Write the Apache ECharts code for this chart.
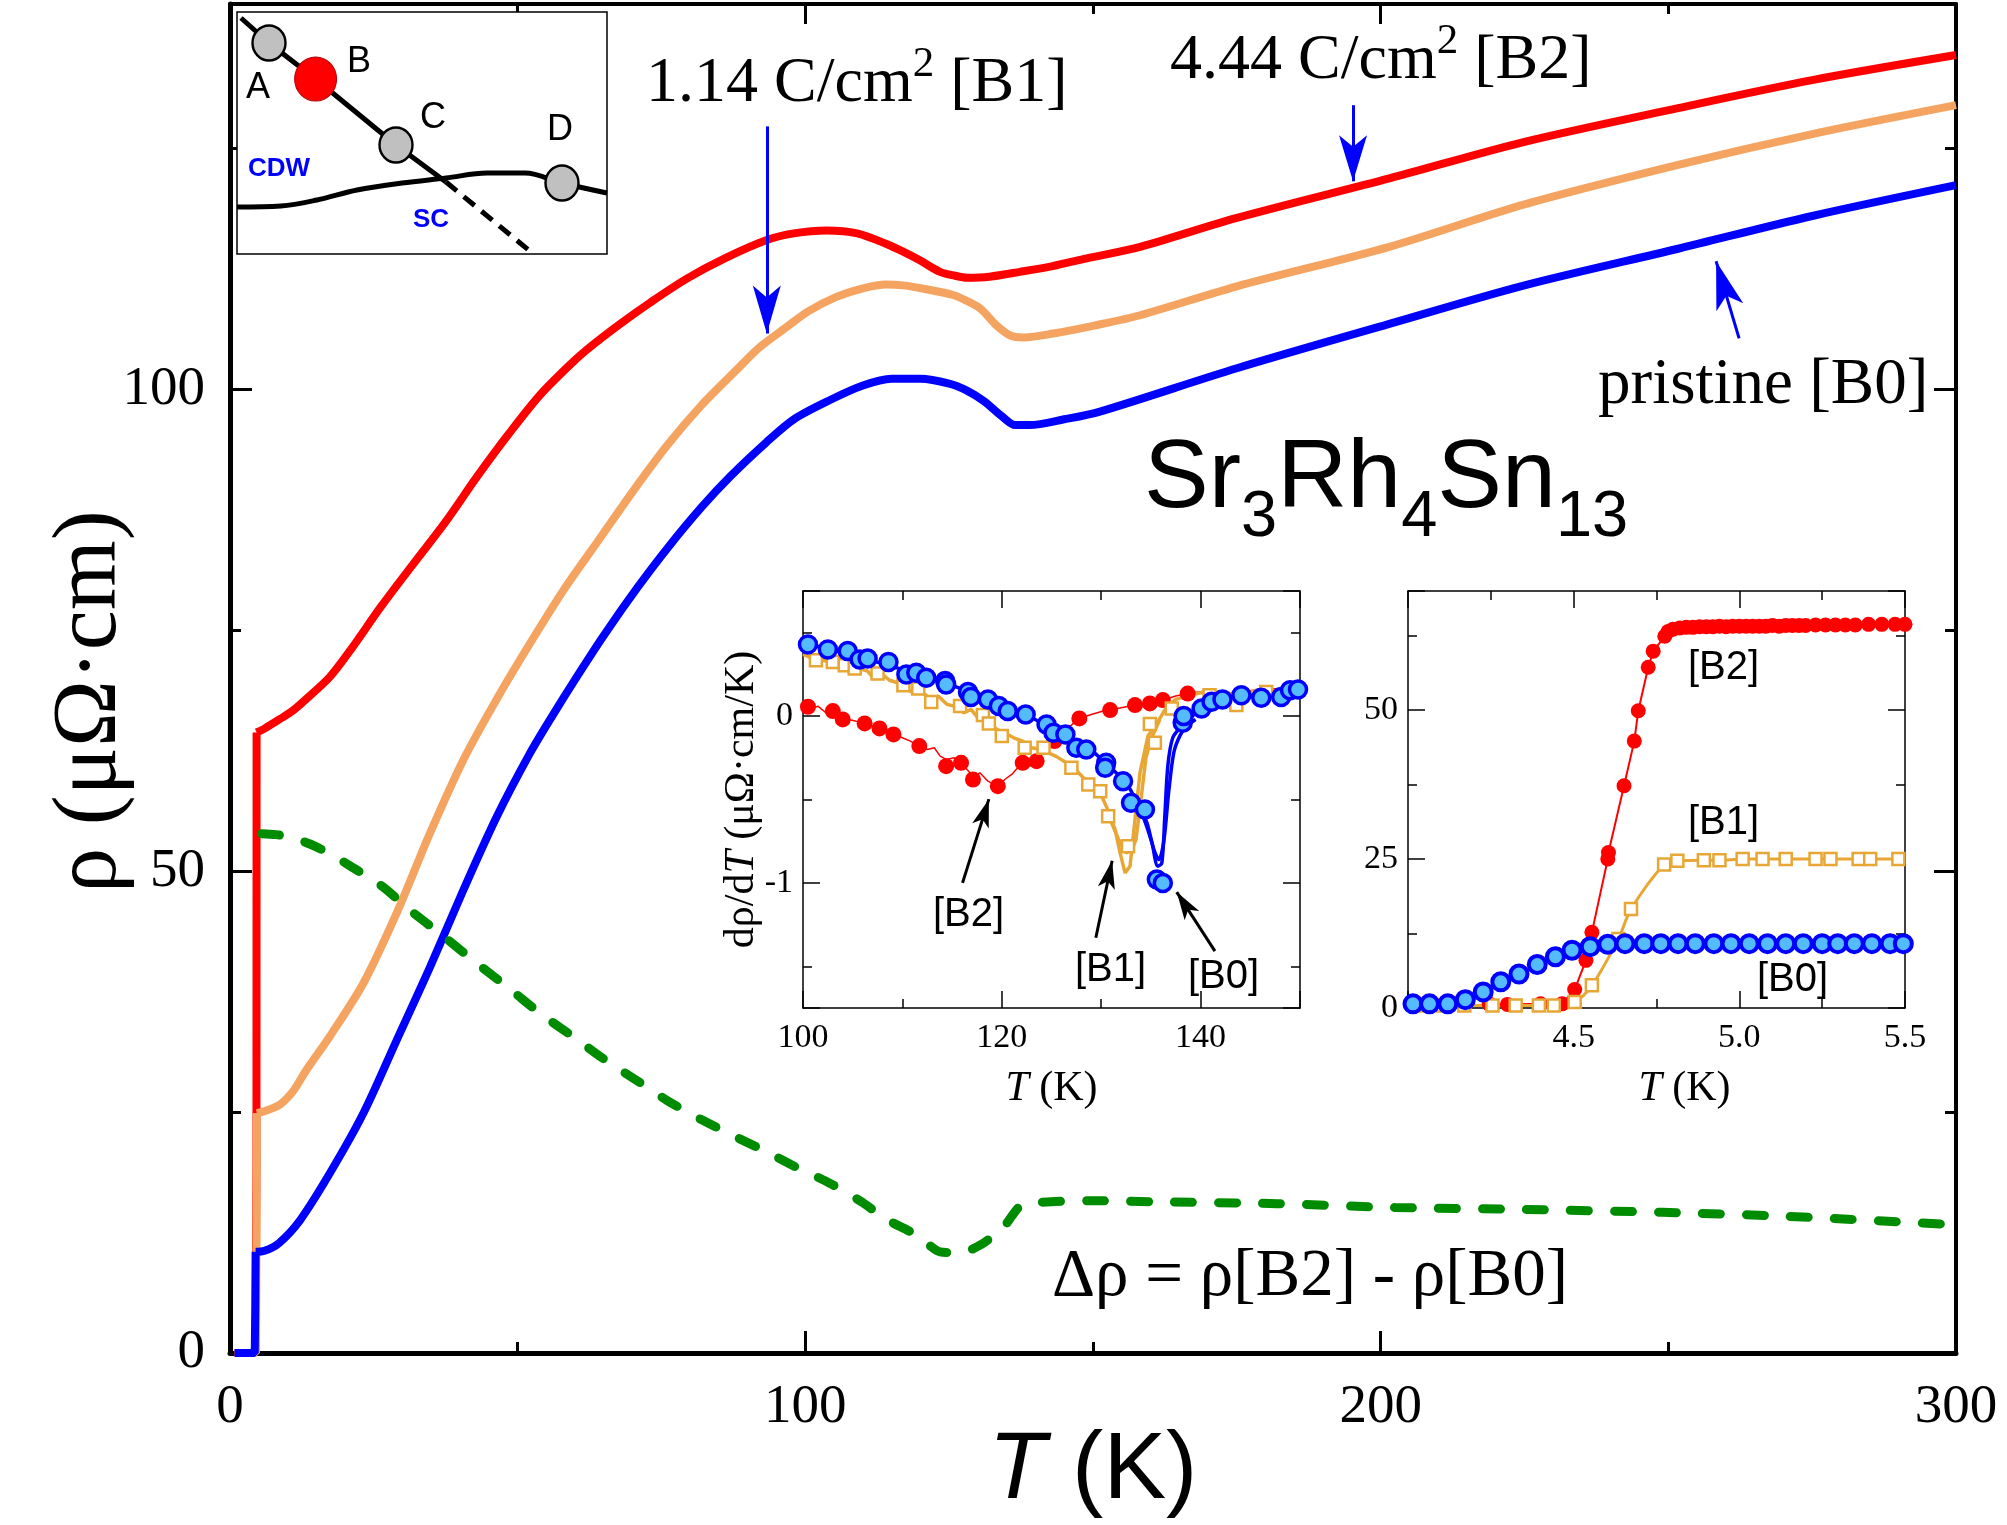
<!DOCTYPE html>
<html><head><meta charset="utf-8">
<script src="https://cdn.jsdelivr.net/npm/echarts@6/dist/echarts.min.js"></script>
<style>html,body{margin:0;padding:0;background:#fff}#c{width:2007px;height:1525px}</style>
</head><body><div id="c"></div>
<script>
// ===== Main panel: rho(T) =====
const rhoB2 = [[0.8,0],[4.45,0],[4.6,20],[4.62,64.4],[6,64.8],[8.7,65.8],[11,66.7],[13.3,67.9],[17.4,70.2],[21,73],[26.3,77.5],[32,82],[37.4,86.2],[43,91],[48.6,95.5],[54,99.5],[59.7,102.9],[63,104.6],[67.8,106.8],[73,109],[79.4,111.5],[86,113.6],[93.3,115.5],[98,116.2],[103.7,116.5],[109,116.2],[114.1,115.1],[117,114.3],[119.9,113.4],[123.4,112.2],[126,111.8],[128.1,111.6],[132,111.7],[137.3,112.2],[143,112.8],[148.9,113.6],[158.2,114.8],[175,117.8],[201.5,121.9],[225,125.7],[251.7,129.2],[275,132.1],[300,134.7]];
const rhoB1 = [[0.8,0],[4.5,0],[4.6,12],[4.65,24.9],[6,25.1],[8.7,25.8],[11,27.2],[13.3,29.4],[17.4,32.9],[23.2,38.4],[29,45.7],[34.8,54],[40.6,61.6],[46.4,67.9],[52,73.5],[58,79.2],[64,84.3],[70,89.4],[76,94.2],[82,98.4],[88,102],[92.1,104.4],[96.8,106.5],[100.5,108.1],[105.4,109.6],[110,110.5],[114,110.9],[117,110.8],[121,110.4],[125.7,109.8],[128,109.2],[130.4,108.4],[133.3,106.6],[135.6,105.6],[138,105.4],[143.1,105.8],[150,106.6],[158.2,107.7],[175,110.7],[201.5,114.8],[225,119.2],[251.7,123.3],[275,126.5],[300,129.5]];
const rhoB0 = [[0.8,0],[4.3,0],[4.4,5],[4.45,10.5],[6,10.6],[8.5,11.4],[12.2,13.8],[17.4,18.7],[23.2,24.9],[29,32.5],[34.8,40.1],[40.6,48.1],[46.4,55.7],[52.1,62.2],[56,66.1],[60.3,70.2],[65,74.5],[70.9,79.5],[76,83.5],[82,87.8],[87,91],[93.2,94.5],[98,96.9],[104.3,98.9],[110,100.4],[115,101.1],[120,101.1],[125,100.6],[128,99.9],[131,98.8],[134,97.3],[136.5,96.3],[139,96.3],[145,96.9],[151.2,97.7],[175,102.2],[201.5,106.8],[225,110.8],[251.7,114.6],[275,118],[300,121.2]];
const dRho = [[5.5,53.9],[8,53.8],[10.7,53.5],[14,52.8],[17.4,51.8],[21,50.5],[26.3,48.5],[31,46.1],[37.4,43.1],[43,40.4],[48.6,37.8],[54,35.2],[59.7,32.8],[65,30.5],[70.9,28.2],[76,26.2],[82,24.2],[88,22.4],[93.2,20.9],[98,19.4],[104.3,17.6],[110,15.6],[114,13.9],[118.8,12.4],[121.5,11.2],[123.4,10.5],[126.9,10.4],[130.4,11.2],[132.5,12.1],[134.4,13.0],[136,14.3],[137.3,15.2],[140,15.6],[150,15.8],[160,15.7],[182,15.5],[202.5,15.1],[225,14.9],[249,14.6],[270,14.2],[300,13.3]];
const JUMP_END = 3; // index where the superconducting jump ends in each rho array
const mainXTicks = {min:0, max:300, major:100, minor:50};
const mainYTicks = {min:0, max:140, major:50, minor:25};

// ===== Inset 1: drho/dT =====
const dB2line = [[100,0.07],[100.8,0.04],[101.5,0.06],[102.3,0.02],[103,0.03],[103.8,0.0],[104.5,-0.02],[105.3,-0.03],[106.2,-0.044],[107,-0.06],[107.7,-0.074],[108.4,-0.09],[109.1,-0.11],[110,-0.13],[110.8,-0.15],[111.7,-0.18],[112.5,-0.2],[113.2,-0.19],[113.8,-0.24],[114.4,-0.26],[115.2,-0.25],[115.9,-0.28],[116.5,-0.32],[117.1,-0.36],[117.8,-0.34],[118.6,-0.39],[119.6,-0.42],[120.3,-0.38],[121,-0.35],[121.6,-0.31],[122.1,-0.28],[122.8,-0.3],[123.5,-0.26],[124.4,-0.2],[125.3,-0.15],[126.5,-0.08],[127.8,-0.014],[129,0.01],[130.2,0.03],[130.9,0.036],[132,0.05],[133.4,0.066],[134.9,0.076],[136.2,0.096],[137.5,0.12],[138.7,0.135],[140.5,0.15],[143,0.14],[146,0.16],[150,0.17]];
const dB2pts = [[100.5,0.056],[103.0,0.03],[104.0,-0.02],[106.2,-0.044],[107.7,-0.074],[109.1,-0.11],[111.7,-0.18],[114.4,-0.30],[115.9,-0.28],[117.1,-0.38],[119.6,-0.42],[122.1,-0.28],[123.5,-0.27],[125.3,-0.15],[127.8,-0.014],[130.9,0.036],[133.4,0.066],[134.9,0.076],[136.2,0.096],[138.7,0.135]];
const dB1line = [[100,0.37],[101,0.345],[102,0.335],[103,0.32],[104,0.30],[104.6,0.27],[105.4,0.29],[106.5,0.27],[107.2,0.22],[107.8,0.26],[108.7,0.215],[109.5,0.2],[110.2,0.18],[111,0.14],[111.6,0.17],[112.1,0.135],[113,0.1],[113.6,0.12],[114.5,0.07],[115.4,0.056],[116.2,0.02],[116.9,0.04],[117.6,-0.01],[118.8,-0.044],[119.5,-0.08],[120.3,-0.1],[121.2,-0.13],[122.1,-0.15],[123,-0.19],[124,-0.2],[125.5,-0.243],[126.5,-0.28],[127.4,-0.32],[128.2,-0.37],[129,-0.4],[129.7,-0.43],[130.2,-0.5],[130.8,-0.58],[131.4,-0.68],[131.9,-0.82],[132.4,-0.94],[132.9,-0.9],[133.4,-0.62],[133.9,-0.34],[134.7,-0.12],[135.6,-0.044],[136.6,0.056],[137.5,0.1],[138.9,0.125],[140,0.14],[142.3,0.145],[144,0.12],[145.6,0.155],[148,0.15],[150,0.145]];
const dB1line2 = [[130.9,-0.62],[131.9,-0.76],[132.5,-0.82],[133.1,-0.8],[133.5,-0.74],[134.0,-0.5],[134.5,-0.25],[135.0,-0.14],[135.9,-0.02]];
const dB1pts = [[101.3,0.335],[103.0,0.325],[104.2,0.305],[105.2,0.285],[107.5,0.255],[110.1,0.185],[111.6,0.165],[112.9,0.085],[115.8,0.06],[118.1,0.006],[118.7,-0.044],[120.0,-0.12],[122.3,-0.19],[124.2,-0.19],[127.0,-0.31],[128.7,-0.41],[129.9,-0.45],[130.7,-0.6],[132.7,-0.78],[134.9,-0.048],[135.4,-0.16],[137.1,0.046],[140.9,0.125],[143.6,0.066],[146.6,0.145]];
const dB0line = [[100.0,0.44],[101,0.425],[102,0.41],[103,0.395],[104,0.38],[105.4,0.355],[107,0.33],[108.7,0.305],[110.4,0.27],[112.1,0.245],[114,0.21],[115.4,0.175],[117,0.14],[118.8,0.09],[120.6,0.04],[122.1,0.016],[124,-0.04],[125.5,-0.084],[127,-0.14],[128.9,-0.2],[130.4,-0.28],[131.5,-0.34],[132.5,-0.4],[133.2,-0.47],[134.2,-0.6],[135.1,-0.76],[135.7,-0.9],[136.1,-0.88],[136.4,-0.6],[136.7,-0.3],[137.2,-0.13],[138.1,-0.06],[138.9,-0.01],[140.6,0.05],[142.3,0.095],[144,0.12],[145.6,0.125],[148,0.13],[150,0.165]];
const dB0line2 = [[133.6,-0.5],[134.6,-0.64],[135.3,-0.8],[135.8,-0.86],[136.3,-0.75],[136.8,-0.45],[137.3,-0.22],[137.9,-0.12],[138.6,-0.06],[139.5,-0.02]];
const dB0pts = [[100.5,0.43],[102.5,0.40],[104.5,0.39],[105.7,0.34],[106.5,0.345],[108.6,0.325],[110.4,0.25],[111.4,0.26],[112.4,0.23],[114.3,0.21],[114.4,0.19],[116.6,0.145],[116.9,0.115],[118.6,0.10],[119.7,0.06],[120.6,0.03],[122.4,0.01],[124.5,-0.05],[125.2,-0.10],[126.4,-0.11],[127.5,-0.19],[128.5,-0.20],[130.5,-0.28],[130.4,-0.31],[132.2,-0.39],[133.0,-0.52],[134.4,-0.56],[135.6,-0.98],[136.2,-1.0],[138.2,-0.04],[138.3,0.0],[140.1,0.046],[141.1,0.086],[142.2,0.10],[144.1,0.125],[146.1,0.11],[148.1,0.115],[149.0,0.155],[149.8,0.16]];

// ===== Inset 2: superconducting transition =====
const sB2 = [[4.245,0.7],[4.3,0.6],[4.4,0.7],[4.465,0.7],[4.503,3.1],[4.537,8.0],[4.555,12.7],[4.603,25.0],[4.605,26.1],[4.652,37.3],[4.683,44.8],[4.695,49.9],[4.725,57.2],[4.74,59.9],[4.775,62.4],[4.785,63.2],[4.80,63.6],[4.82,63.8],[4.84,63.9],[4.86,63.9],[4.88,64.0],[4.90,64.0],[4.92,64.0],[4.94,64.1],[4.96,64.0],[4.98,64.1],[5.00,64.1],[5.02,64.1],[5.04,64.1],[5.06,64.1],[5.08,64.1],[5.10,64.2],[5.12,64.1],[5.14,64.2],[5.16,64.2],[5.18,64.2],[5.20,64.2],[5.23,64.3],[5.26,64.3],[5.29,64.3],[5.32,64.3],[5.35,64.3],[5.39,64.4],[5.43,64.4],[5.47,64.4],[5.50,64.4]];
const sB1 = [[4.03,0.4],[4.105,0.4],[4.17,0.4],[4.255,0.4],[4.325,0.4],[4.395,0.4],[4.44,0.4],[4.503,1.0],[4.555,3.8],[4.635,11.6],[4.673,16.6],[4.773,24.1],[4.813,24.7],[4.893,24.8],[4.94,24.8],[5.01,25.0],[5.07,25.0],[5.14,25.0],[5.23,25.0],[5.275,25.0],[5.36,25.0],[5.395,25.0],[5.48,25.0]];
const sB0 = [[4.015,0.7],[4.065,0.7],[4.12,0.7],[4.173,1.4],[4.227,2.7],[4.28,4.4],[4.335,5.7],[4.39,7.3],[4.445,8.6],[4.495,9.7],[4.55,10.3],[4.603,10.7],[4.655,10.8],[4.713,10.8],[4.763,10.8],[4.815,10.8],[4.867,10.8],[4.923,10.8],[4.975,10.8],[5.03,10.8],[5.085,10.8],[5.14,10.8],[5.193,10.8],[5.25,10.8],[5.297,10.8],[5.347,10.8],[5.4,10.8],[5.455,10.8],[5.495,10.8]];

// ===== Schematic phase diagram (arbitrary units) =====
const phDiag = [[4,236],[32,211],[78.6,175],[159,109],[209,72]];
const phDash = [[209,72],[294,2]];
const phBound = [[0,47],[44,48],[80,54],[120,64],[165,71],[209,76],[250,81],[288,81],[325,71],[370,61]];
const phGray = [[32,211],[159,109],[325,71]];
const phRed = [[78.6,175]];

// ===== styles =====
const SERIF = '"Liberation Serif","Times New Roman",serif';
const SANS = '"Liberation Sans",Arial,sans-serif';
const RED = '#ff0000', ORANGE = '#f4a460', BLUE = '#0000ff', GREEN = '#008c00', GOLD = '#e8a735', LBLUE = '#55bbff';

const grids = [], xAxes = [], yAxes = [];
function axis(o) {
  const a = {
    type: 'value', position: o.pos, min: o.min, max: o.max, show: o.show !== false,
    nameMoveOverlap: false,
    splitLine: {show: false},
    axisLine: {show: !!o.lineW, onZero: false, lineStyle: {color: '#000', width: o.lineW || 1}},
    axisTick: {show: !!o.tickLen, inside: true, length: o.tickLen || 0, lineStyle: {color: '#000', width: o.tickW || 1.5}},
    axisLabel: {show: !!o.fmt, color: '#000', fontFamily: SERIF, fontSize: o.fs || 34, margin: o.margin || 10, formatter: o.fmt, showMinLabel: true, showMaxLabel: true},
    minorTick: {show: false}
  };
  if (o.interval != null) a.interval = o.interval;
  if (o.fixInt != null) { a.minInterval = o.fixInt; a.maxInterval = o.fixInt; }
  return Object.assign(a, o.extra || {});
}
function layer(rect, xa, ya) {
  const gi = grids.length;
  grids.push(Object.assign({show: false, containLabel: false, outerBoundsMode: 'none'}, rect));
  xa.gridIndex = gi; ya.gridIndex = gi;
  xAxes.push(xa); yAxes.push(ya);
  return gi;
}

// --- main layers ---
const MR = {left: 230, top: 4, width: 1726, height: 1349};
const M0 = layer(MR,
  axis({pos: 'bottom', min: mainXTicks.min, max: mainXTicks.max, interval: mainXTicks.major, lineW: 5, tickLen: 22, tickW: 3,
        fmt: v => String(v), fs: 55, margin: 27,
        extra: {name: '{i|T} (K)', nameLocation: 'middle', nameGap: 72,
          nameTextStyle: {fontFamily: SANS, fontSize: 94, color: '#000', rich: {i: {fontFamily: SANS, fontSize: 94, fontStyle: 'italic', color: '#000'}}}}}),
  axis({pos: 'left', min: mainYTicks.min, max: mainYTicks.max, interval: mainYTicks.major, lineW: 5, tickLen: 22, tickW: 3,
        fmt: v => (v % 50 === 0 ? String(v) : ''), fs: 55, margin: 25,
        extra: {name: 'ρ (μΩ·cm)', nameLocation: 'middle', nameGap: 94,
          nameTextStyle: {fontFamily: SERIF, fontSize: 90, color: '#000', padding: [0, 46, 0, 0]}}}));
layer(MR,
  axis({pos: 'top', min: mainXTicks.min, max: mainXTicks.max, interval: mainXTicks.major, lineW: 4, tickLen: 20, tickW: 3}),
  axis({pos: 'right', min: mainYTicks.min, max: mainYTicks.max, interval: mainYTicks.major, lineW: 4, tickLen: 22, tickW: 3}));
layer(MR,
  axis({pos: 'bottom', min: mainXTicks.min, max: mainXTicks.max, interval: mainXTicks.minor, tickLen: 11, tickW: 3}),
  axis({pos: 'left', min: mainYTicks.min, max: mainYTicks.max, interval: mainYTicks.minor, tickLen: 11, tickW: 3}));
layer(MR,
  axis({pos: 'top', min: mainXTicks.min, max: mainXTicks.max, interval: mainXTicks.minor, tickLen: 10, tickW: 3}),
  axis({pos: 'right', min: mainYTicks.min, max: mainYTicks.max, interval: mainYTicks.minor, tickLen: 11, tickW: 3}));

// --- inset 1 layers ---
const R1 = {left: 803, top: 591, width: 497, height: 417};
const I0 = layer(R1,
  axis({pos: 'bottom', min: 100, max: 150, interval: 20, lineW: 1.5, tickLen: 17, fmt: v => (v === 150 ? '' : String(v)), fs: 34, margin: 13,
        extra: {name: '{i|T} (K)', nameLocation: 'middle', nameGap: 60,
          nameTextStyle: {fontFamily: SERIF, fontSize: 42, color: '#000', rich: {i: {fontFamily: SERIF, fontSize: 42, fontStyle: 'italic', color: '#000'}}}}}),
  axis({pos: 'left', min: -1.75, max: 0.75, fixInt: 1, lineW: 1.5, tickLen: 17,
        fmt: v => (Math.abs(v - Math.round(v)) < 1e-9 ? String(Math.round(v)) : ''), fs: 34, margin: 10,
        extra: {name: 'dρ/d{i|T} (μΩ·cm/K)', nameLocation: 'middle', nameGap: 40,
          nameTextStyle: {fontFamily: SERIF, fontSize: 42, color: '#000', rich: {i: {fontFamily: SERIF, fontSize: 42, fontStyle: 'italic', color: '#000'}}}}}));
layer(R1, axis({pos: 'top', min: 100, max: 150, interval: 20, lineW: 1.5, tickLen: 17}),
          axis({pos: 'right', min: -1.75, max: 0.75, fixInt: 1, lineW: 1.5, tickLen: 17}));
layer(R1, axis({pos: 'bottom', min: 100, max: 150, interval: 10, tickLen: 9}),
          axis({pos: 'left', min: -1.75, max: 0.75, fixInt: 0.5, tickLen: 9}));
layer(R1, axis({pos: 'top', min: 100, max: 150, interval: 10, tickLen: 9}),
          axis({pos: 'right', min: -1.75, max: 0.75, fixInt: 0.5, tickLen: 9}));

// --- inset 2 layers ---
const R2 = {left: 1408, top: 591, width: 497, height: 417};
const J0 = layer(R2,
  axis({pos: 'bottom', min: 4, max: 5.5, interval: 0.5, lineW: 1.5, tickLen: 17, fmt: v => (v === 4 ? '' : v.toFixed(1)), fs: 34, margin: 13,
        extra: {name: '{i|T} (K)', nameLocation: 'middle', nameGap: 60,
          nameTextStyle: {fontFamily: SERIF, fontSize: 42, color: '#000', padding: [0, 0, 0, 56], rich: {i: {fontFamily: SERIF, fontSize: 42, fontStyle: 'italic', color: '#000'}}}}}),
  axis({pos: 'left', min: 0, max: 70, interval: 25, lineW: 1.5, tickLen: 17, fmt: v => (v === 70 ? '' : String(v)), fs: 34, margin: 10}));
layer(R2, axis({pos: 'top', min: 4, max: 5.5, interval: 0.5, lineW: 1.5, tickLen: 17}),
          axis({pos: 'right', min: 0, max: 70, interval: 25, lineW: 1.5, tickLen: 17}));
layer(R2, axis({pos: 'bottom', min: 4, max: 5.5, interval: 0.25, tickLen: 9}),
          axis({pos: 'left', min: 0, max: 70, interval: 12.5, tickLen: 9}));
layer(R2, axis({pos: 'top', min: 4, max: 5.5, interval: 0.25, tickLen: 9}),
          axis({pos: 'right', min: 0, max: 70, interval: 12.5, tickLen: 9}));

// --- schematic ---
const S0 = layer({left: 237, top: 12, width: 370, height: 242},
  axis({pos: 'bottom', min: 0, max: 370, show: false}),
  axis({pos: 'left', min: 0, max: 242, show: false}));
grids[S0].show = true; grids[S0].backgroundColor = '#fff'; grids[S0].borderColor = '#000'; grids[S0].borderWidth = 1.5; grids[S0].z = 5;

function line(gi, data, color, width, extra) {
  return Object.assign({type: 'line', xAxisIndex: gi, yAxisIndex: gi, data: data, showSymbol: false, symbol: 'none',
    lineStyle: {color: color, width: width}, itemStyle: {color: color}, emphasis: {disabled: true}, silent: true, z: 3}, extra || {});
}
function pts(gi, data, symbol, size, fill, border, bw, extra) {
  return Object.assign({type: 'scatter', xAxisIndex: gi, yAxisIndex: gi, data: data, symbol: symbol, symbolSize: size,
    itemStyle: {color: fill, borderColor: border, borderWidth: bw, opacity: 1}, emphasis: {disabled: true}, silent: true, z: 4}, extra || {});
}
function arrows(color, width, list) {
  return {silent: true, animation: false, symbol: ['none', 'arrow'], label: {show: false}, emphasis: {disabled: true},
    lineStyle: {color: color, width: width, type: 'solid'},
    data: list.map(a => [{coord: a[0], symbol: 'none'}, {coord: a[1], symbol: 'arrow', symbolSize: a[2]}])};
}
// main curve: straight superconducting jump + smooth normal-state part
function mainCurve(data, color, width, extra) {
  return [
    line(M0, data.slice(0, JUMP_END + 1), color, width),
    line(M0, data.slice(JUMP_END), color, width, Object.assign({smooth: 0.3}, extra || {}))
  ];
}

const series = [].concat(
  mainCurve(rhoB2, RED, 8),
  mainCurve(rhoB1, ORANGE, 8),
  mainCurve(rhoB0, BLUE, 8, {markLine: arrows(BLUE, 3, [
    [[93.3, 127.3], [93.3, 105.8], [21, 48]],
    [[195.2, 129.5], [195.2, 121.6], [21, 46]],
    [[262.3, 105.3], [258.3, 113.3], [21, 48]]
  ])}),
  [
  line(M0, dRho, GREEN, 9, {smooth: 0.3, lineStyle: {color: GREEN, width: 9, type: [18, 26], cap: 'round'}}),

  line(I0, dB2line, RED, 1.5),
  pts(I0, dB2pts, 'circle', 16, RED, RED, 0),
  line(I0, dB1line, GOLD, 3.5),
  line(I0, dB1line2, GOLD, 3.5),
  pts(I0, dB1pts, 'rect', 12, '#fff', GOLD, 2.5),
  line(I0, dB0line, BLUE, 3.5, {smooth: 0.3}),
  line(I0, dB0line2, BLUE, 3.5, {smooth: 0.3}),
  pts(I0, dB0pts, 'circle', 17, LBLUE, BLUE, 3.5, {markLine: arrows('#000', 3, [
    [[116.05, -1.0], [118.7, -0.498], [13, 28]],
    [[129.46, -1.329], [131.1, -0.867], [13, 28]],
    [[141.44, -1.409], [137.6, -1.055], [13, 28]]
  ])}),

  pts(J0, sB0, 'circle', 17, LBLUE, BLUE, 4),
  line(J0, sB2, RED, 2, {showSymbol: true, symbol: 'circle', symbolSize: 15, itemStyle: {color: RED}}),
  line(J0, sB1, GOLD, 3, {smooth: 0.3, showSymbol: true, symbol: 'rect', symbolSize: 12, itemStyle: {color: '#fff', borderColor: GOLD, borderWidth: 2.5}}),

  line(S0, phBound, '#000', 5, {smooth: 0.35, z: 6}),
  line(S0, phDiag, '#000', 5, {z: 6}),
  line(S0, phDash, '#000', 5, {lineStyle: {color: '#000', width: 5, type: [14, 9]}, z: 6}),
  pts(S0, phGray, 'circle', [33, 35], '#c0c0c0', '#000', 2.5, {z: 7}),
  pts(S0, phRed, 'circle', [42, 44], RED, '#b00000', 1, {z: 7})
  ]
);

function txt(x, y, text, font, extra) {
  return Object.assign({type: 'text', x: x, y: y, z: 100, silent: true,
    style: Object.assign({text: text, fill: '#000', align: 'left', verticalAlign: 'middle'}, font)}, extra || {});
}
const richSup = {
  m: {fontFamily: SERIF, fontSize: 64, padding: [9, 0, 0, 0], verticalAlign: 'top', fill: '#000'},
  s: {fontFamily: SERIF, fontSize: 43, verticalAlign: 'top', fill: '#000'}
};
const graphic = [
  txt(646, 43, '{m|1.14 C/cm}{s|2}{m| [B1]}', {rich: richSup, verticalAlign: 'top'}),
  txt(1170, 20, '{m|4.44 C/cm}{s|2}{m| [B2]}', {rich: richSup, verticalAlign: 'top'}),
  txt(1598, 386, 'pristine [B0]', {fontFamily: SERIF, fontSize: 65}),
  txt(1144, 432, '{m|Sr}{s|3}{m|Rh}{s|4}{m|Sn}{s|13}', {verticalAlign: 'top', rich: {
    m: {fontFamily: SANS, fontSize: 97, verticalAlign: 'top', fill: '#000'},
    s: {fontFamily: SANS, fontSize: 65, padding: [54, 0, 0, 0], verticalAlign: 'top', fill: '#000'}}}),
  txt(1052, 1277, 'Δρ = ρ[B2] - ρ[B0]', {fontFamily: SERIF, fontSize: 67}),
  // inset labels
  txt(933, 915, '[B2]', {fontFamily: SANS, fontSize: 40}),
  txt(1075, 970, '[B1]', {fontFamily: SANS, fontSize: 40}),
  txt(1188, 977, '[B0]', {fontFamily: SANS, fontSize: 40}),
  txt(1688, 668, '[B2]', {fontFamily: SANS, fontSize: 40}),
  txt(1688, 823, '[B1]', {fontFamily: SANS, fontSize: 40}),
  txt(1757, 980, '[B0]', {fontFamily: SANS, fontSize: 40}),
  // schematic labels
  txt(258, 88, 'A', {fontFamily: SANS, fontSize: 36, align: 'center'}),
  txt(359, 62, 'B', {fontFamily: SANS, fontSize: 36, align: 'center'}),
  txt(433, 118, 'C', {fontFamily: SANS, fontSize: 36, align: 'center'}),
  txt(560, 130, 'D', {fontFamily: SANS, fontSize: 36, align: 'center'}),
  txt(279, 169, 'CDW', {fontFamily: SANS, fontSize: 26, fontWeight: 'bold', fill: '#0000ff', align: 'center'}),
  txt(431, 220, 'SC', {fontFamily: SANS, fontSize: 26, fontWeight: 'bold', fill: '#0000ff', align: 'center'})
];

const chart = echarts.init(document.getElementById('c'), null, {renderer: 'canvas'});
chart.setOption({
  animation: false,
  backgroundColor: '#fff',
  grid: grids, xAxis: xAxes, yAxis: yAxes,
  series: series,
  graphic: graphic
});
</script>
</body></html>
